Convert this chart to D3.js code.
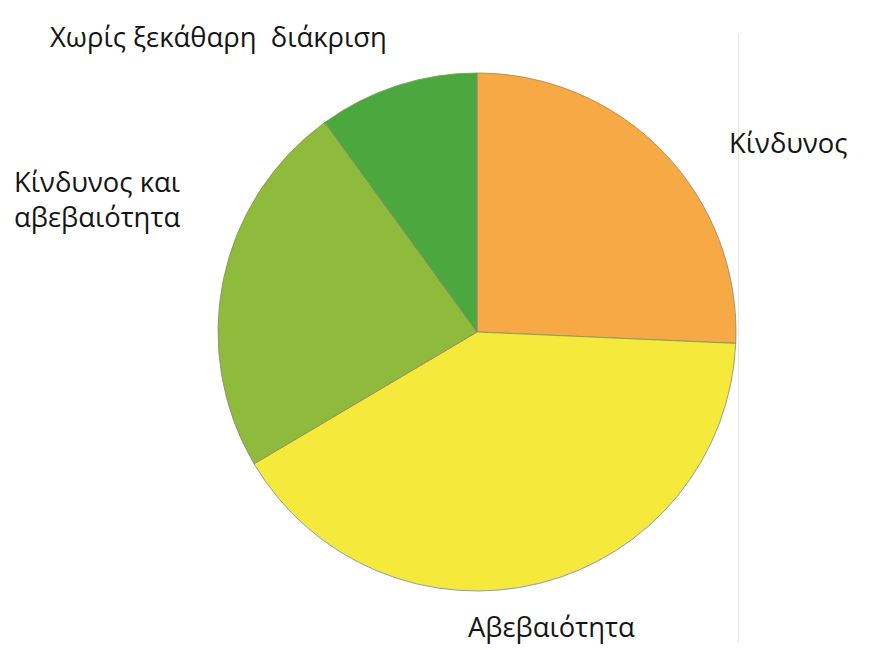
<!DOCTYPE html>
<html>
<head>
<meta charset="utf-8">
<script src="https://cdn.jsdelivr.net/npm/d3@7/dist/d3.min.js"></script>
<style>
  html, body { margin: 0; padding: 0; background: #ffffff; }
  svg text { font-family: "Open Sans", "Noto Sans", sans-serif; fill: #151515; white-space: pre; }
</style>
</head>
<body>
<svg id="chart" width="891" height="650"></svg>
<script>
// Categories, clockwise from 12 o'clock
const categories = ["Κίνδυνος", "Αβεβαιότητα", "Κίνδυνος και αβεβαιότητα", "Χωρίς ξεκάθαρη διάκριση"];
// Share of each category (%)
const values = [25.7, 40.8, 23.5, 10.0];
const colors = ["#f6a945", "#f5e93c", "#8fbb3c", "#4ba83f"];
// Label lines per category
const labelLines = [["Κίνδυνος"], ["Αβεβαιότητα"], ["Κίνδυνος και", "αβεβαιότητα"], ["Χωρίς ξεκάθαρη  διάκριση"]];

const svg = d3.select("#chart");
const cx = 477, cy = 332, radius = 259;

// faint frame line right of the pie
svg.append("line")
  .attr("x1", 738.5).attr("x2", 738.5)
  .attr("y1", 33).attr("y2", 642)
  .attr("stroke", "#e6e6e6").attr("stroke-width", 1);

const pie = d3.pie().sort(null).value(d => d)(values);
const arc = d3.arc().innerRadius(0).outerRadius(radius);

const g = svg.append("g").attr("transform", `translate(${cx},${cy})`);
g.selectAll("path")
  .data(pie)
  .join("path")
  .attr("d", arc)
  .attr("fill", (d, i) => colors[i])
  .attr("stroke", "#8a8a70")
  .attr("stroke-opacity", 0.8)
  .attr("stroke-width", 1);

// Label anchor points (left edge, first baseline)
const labelPos = [[729, 153], [468, 637], [14, 192], [50, 47]];
const lineHeight = 35;

labelLines.forEach((lines, i) => {
  const t = svg.append("text")
    .attr("x", labelPos[i][0])
    .attr("y", labelPos[i][1])
    .attr("font-size", 27.4);
  lines.forEach((ln, j) => {
    t.append("tspan")
      .attr("x", labelPos[i][0])
      .attr("dy", j === 0 ? 0 : lineHeight)
      .text(ln);
  });
});
</script>
</body>
</html>
